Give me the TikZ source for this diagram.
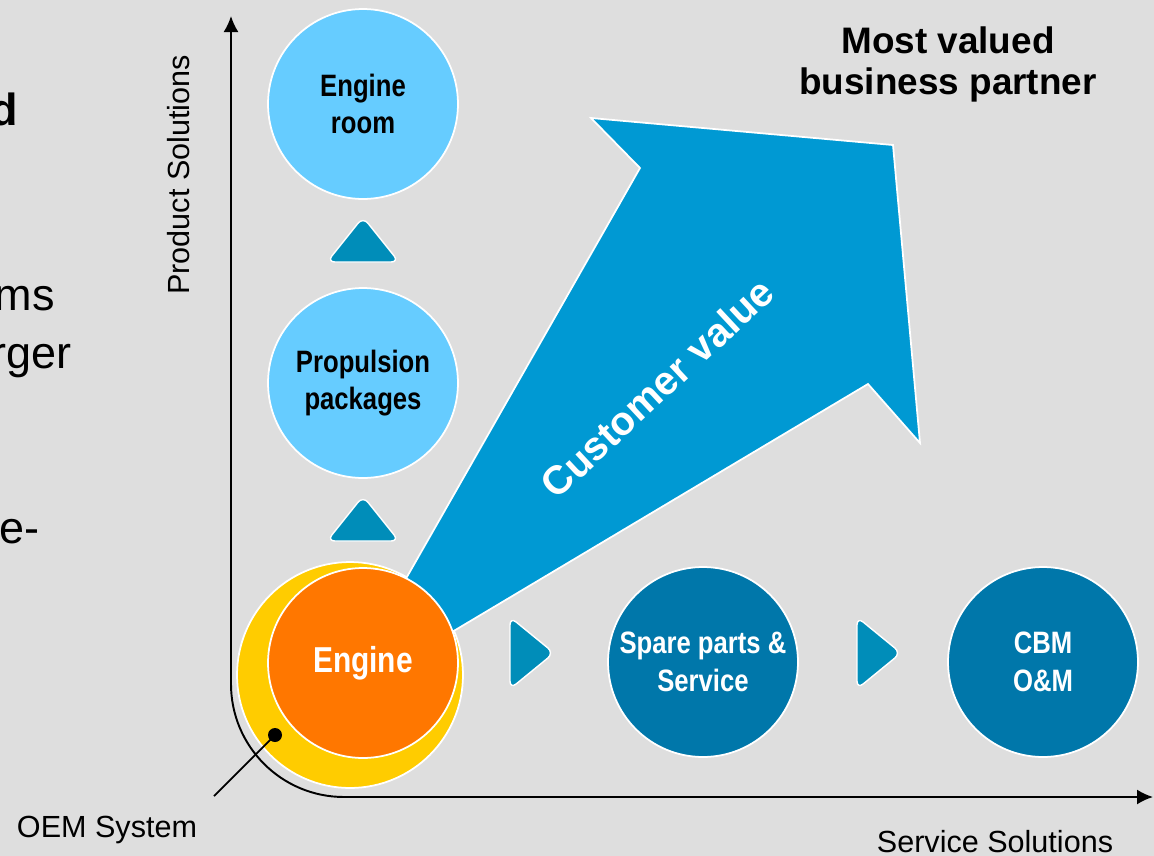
\documentclass[tikz,border=0pt]{standalone}
\usepackage{fontspec}
\setmainfont{Liberation Sans}
\newfontfamily\narrowsans[FakeStretch=0.83]{Liberation Sans}
\definecolor{bggray}{rgb}{0.871,0.871,0.871}
\definecolor{skyblue}{rgb}{0.4,0.8,1}
\definecolor{seablue}{rgb}{0,0.6,0.827}
\definecolor{deepblue}{rgb}{0,0.467,0.667}
\definecolor{stepblue}{rgb}{0,0.553,0.725}
\definecolor{engorange}{rgb}{1,0.467,0}
\definecolor{oemyellow}{rgb}{1,0.8,0}
\usetikzlibrary{arrows.meta}
\tikzset{
    bubble/.style={
           circle,
           draw=white, line width=1pt,
           minimum size=3.8cm,
           inner sep=0pt,
           align=center,
           font=\narrowsans\bfseries\fontsize{17.6}{21.4}\selectfont,
           },
    chevron/.style={fill=stepblue, draw=white, line width=0.8pt, rounded corners=4.5pt},
    axislabel/.style={font=\fontsize{17.4}{21}\selectfont, inner sep=0pt},
    fragment/.style={font=\fontsize{25.6}{30}\selectfont, inner sep=0pt},
}
\newcommand{\Title}{\textbf{Most valued}\\\textbf{business partner}}
\begin{document}
\begin{tikzpicture}[x=0.02cm, y=-0.02cm]
      \fill[bggray] (0,0) rectangle (1154,856);
      \useasboundingbox (0,0) rectangle (1154,856);
      \node[fragment, anchor=base east] (fragd)    at (18,125)  {\bfseries d};
      \node[fragment, anchor=base east] (fragms)   at (55,310)  {ms};
      \node[fragment, anchor=base east] (fragrger) at (72,368)  {rger};
      \node[fragment, anchor=base east] (frage)    at (40,543)  {e-};
      \coordinate (ytip)   at (231,16);
      \coordinate (corner) at (231,797);
      \coordinate (xtip)   at (1153,797);
      \draw[{Latex[length=3.2mm,width=3mm]}-{Latex[length=3.2mm,width=3mm]}, line width=1.1pt, rounded corners=2.26cm] (ytip) -- (corner) -- (xtip);
      \node[axislabel, rotate=90]   (prodlabel) at (179,175) {Product Solutions};
      \node[axislabel, anchor=base] (servlabel) at (995,852) {Service Solutions};
      \node[axislabel, anchor=base] (oemlabel)  at (107,837) {OEM System};
      \node[circle, fill=oemyellow, draw=white, line width=1pt, minimum size=4.52cm] (oem) at (350,675) {};
      \fill[seablue, draw=white, line width=1pt] (371,640) -- (640,168) -- (591,118) -- (893,145) -- (920,443) -- (868,384) -- (400,663) -- cycle;
      \node[rotate=43, text=white, font=\bfseries\fontsize{22.8}{26}\selectfont] (value) at (657,388) {Customer value};
      \node[align=center, font=\fontsize{21}{23.3}\selectfont] (partner) at (948,64) {\Title};
      \node[bubble, fill=skyblue]                 (room)       at (363,104)  {Engine\\room};
      \node[bubble, fill=skyblue]                 (propulsion) at (363,383)  {Propulsion\\packages};
      \node[bubble, fill=engorange, text=white, font=\narrowsans\bfseries\fontsize{20.5}{24}\selectfont] (engine) at (363,663) {Engine};
      \node[bubble, fill=deepblue, text=white]    (spare)      at (703,662)  {Spare parts \&\\Service};
      \node[bubble, fill=deepblue, text=white]    (cbm)        at (1043,662) {CBM\\O\&M};
      \draw[chevron] (363,217) -- (399,262) -- (327,262) -- cycle;
      \draw[chevron] (363,496) -- (399,541) -- (327,541) -- cycle;
      \draw[chevron] (510,617) -- (554,653) -- (510,689) -- cycle;
      \draw[chevron] (857,617) -- (901,653) -- (857,689) -- cycle;
      \coordinate (oemdot) at (275,735);
      \coordinate (oemend) at (214,796);
      \fill (oemdot) circle (7);
      \draw[line width=1pt] (oemend) -- (oemdot);
\end{tikzpicture}
\end{document}
